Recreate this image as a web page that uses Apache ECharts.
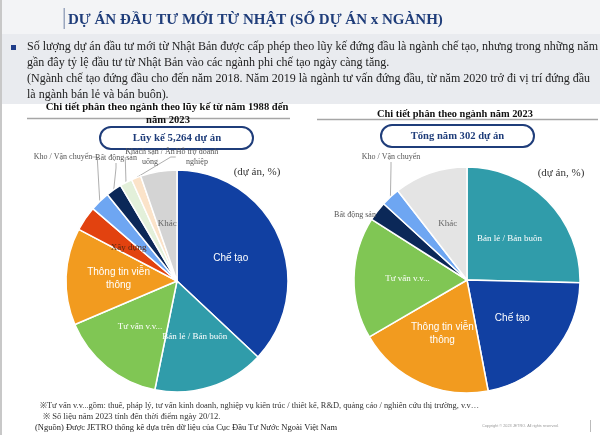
<!DOCTYPE html>
<html><head><meta charset="utf-8">
<script src="https://cdn.jsdelivr.net/npm/echarts@6/dist/echarts.min.js"></script>
<style>html,body{margin:0;padding:0;background:#fff}#c{width:600px;height:435px}</style>
</head><body><div id="c"></div>
<script>
// ---- data ----
const leftCategories = ['Chế tạo','Bán lẻ / Bán buôn','Tư vấn v.v...','Thông tin viễn\nthông','Xây dựng','Kho / Vận chuyển','Bất động sản','Khách sạn / Ăn\nuống','Hỗ trợ doanh\nnghiệp','Khác'];
const leftValues = [37.0, 16.2, 15.4, 14.1, 3.6, 2.9, 2.3, 1.8, 1.4, 5.3];
const rightCategories = ['Bán lẻ / Bán buôn','Chế tạo','Thông tin viễn\nthông','Tư vấn v.v...','Bất động sản','Kho / Vận chuyển','Khác'];
const rightValues = [25.4, 21.6, 19.6, 17.4, 2.8, 2.7, 10.5];
const titleText = 'DỰ ÁN ĐẦU TƯ MỚI TỪ NHẬT (SỐ DỰ ÁN x NGÀNH)';
const bulletLines = [
 'Số lượng dự án đầu tư mới từ Nhật Bản được cấp phép theo lũy kế đứng đầu là ngành chế tạo, nhưng trong những năm',
 'gần đây tỷ lệ đầu tư từ Nhật Bản vào các ngành phi chế tạo ngày càng tăng.',
 '(Ngành chế tạo đứng đầu cho đến năm 2018. Năm 2019 là ngành tư vấn đứng đầu, từ năm 2020 trở đi vị trí đứng đầu',
 'là ngành bán lẻ và bán buôn).'
];
const leftSub = ['Chi tiết phân theo ngành theo lũy kế từ năm 1988 đến','năm 2023'];
const rightSub = 'Chi tiết phân theo ngành năm 2023';
const leftBox = 'Lũy kế 5,264 dự án';
const rightBox = 'Tổng năm 302 dự án';
const unitText = '(dự án, %)';
const notes = [
 '※Tư vấn v.v...gồm: thuế, pháp lý, tư vấn kinh doanh, nghiệp vụ kiến trúc / thiết kế, R&D, quảng cáo / nghiên cứu thị trường, v.v…',
 '※ Số liệu năm 2023 tính đến thời điểm ngày 20/12.'
];
const sourceText = '(Nguồn) Được JETRO thống kê dựa trên dữ liệu của Cục Đầu Tư Nước Ngoài Việt Nam';
const copyText = 'Copyright © 2023 JETRO. All rights reserved.';

// ---- styles ----
const colorMap = {
 'Chế tạo':'#1140A2','Bán lẻ / Bán buôn':'#309CAA','Tư vấn v.v...':'#80C654','Thông tin viễn\nthông':'#F29B1F',
 'Xây dựng':'#E2420F','Kho / Vận chuyển':'#6EA6F2','Bất động sản':'#0B2858','Khách sạn / Ăn\nuống':'#E3F0DA',
 'Hỗ trợ doanh\nnghiệp':'#FBE3C9','Khác':'#D4D4D4'
};
const serif = '"Liberation Serif", "DejaVu Serif", serif';
const sans = '"Liberation Sans", Arial, sans-serif';
const sansLabels = ['Chế tạo','Thông tin viễn\nthông'];
const outsideLeft = {'Kho / Vận chuyển':[63,157],'Bất động sản':[116,158],'Khách sạn / Ăn\nuống':[150,157],'Hỗ trợ doanh\nnghiệp':[197,157]};
const outsideRight = {'Kho / Vận chuyển':[391,157],'Bất động sản':[355,215]};

function buildData(cats, vals, outside, khacColor){
  return cats.map((name,i)=>{
    const isOut = outside[name] !== undefined;
    const item = {name, value: vals[i], itemStyle:{color: name==='Khác'? khacColor : colorMap[name]}};
    if (isOut){
      item.label = {show:true, position:'outside', color:'#555', fontFamily:serif, fontSize:8, lineHeight:10};
      item.labelLine = {show:true, length:10, length2:5, lineStyle:{color:'#999', width:0.8}};
    } else {
      item.label = {show:true, position:'inside', color: name==='Khác' ? '#666' : (name==='Xây dựng' ? '#5a2a10' : '#fff'),
        fontFamily: sansLabels.includes(name)? sans : serif, fontSize: sansLabels.includes(name)? 10 : 9, lineHeight: 13};
      item.labelLine = {show:false};
    }
    return item;
  });
}
function layoutFor(outside, data){
  return function(p){
    const name = data[p.dataIndex].name;
    const pos = outside[name];
    if (!pos) return {};
    return {x: pos[0], y: pos[1], align:'center', verticalAlign:'middle'};
  };
}
const leftData = buildData(leftCategories, leftValues, outsideLeft, '#D4D4D4');
const rightData = buildData(rightCategories, rightValues, outsideRight, '#E4E4E4');

const graphics = [
  {type:'rect', shape:{x:0,y:0,width:600,height:34}, style:{fill:'#F3F4F6'}, silent:true},
  {type:'rect', shape:{x:0,y:34,width:600,height:70}, style:{fill:'#E9EBEF'}, silent:true},
  {type:'rect', shape:{x:0,y:0,width:2,height:435}, style:{fill:'#C8C8C8'}, silent:true},
  {type:'rect', shape:{x:63.5,y:8,width:1.5,height:21}, style:{fill:'#9AA6BE'}, silent:true},
  {type:'text', x:68, y:20, style:{text:titleText, font:'bold 15px '+serif, fill:'#1F3D7A', textVerticalAlign:'middle'}},
  {type:'rect', shape:{x:11,y:45,width:5,height:5}, style:{fill:'#1F3D8A'}},
];
bulletLines.forEach((t,i)=>graphics.push({type:'text', x:27, y:47+i*16, style:{text:t, font:'12px '+serif, fill:'#222', textVerticalAlign:'middle'}}));
graphics.push(
  {type:'text', x:167, y:107, style:{text:leftSub[0], font:'bold 10.6px '+serif, fill:'#111', textAlign:'center', textVerticalAlign:'middle'}},
  {type:'line', shape:{x1:27,y1:118.5,x2:290,y2:118.5}, style:{stroke:'#A6A6A6', lineWidth:1.5}},
  {type:'text', x:168, y:120, style:{text:leftSub[1], font:'bold 10.6px '+serif, fill:'#111', textAlign:'center', textVerticalAlign:'middle'}},
  {type:'text', x:455, y:114, style:{text:rightSub, font:'bold 10.4px '+serif, fill:'#111', textAlign:'center', textVerticalAlign:'middle'}},
  {type:'line', shape:{x1:317,y1:119.5,x2:598,y2:119.5}, style:{stroke:'#A6A6A6', lineWidth:1.5}},
  {type:'rect', shape:{x:100,y:127,width:153,height:22,r:11}, style:{fill:'#fff', stroke:'#1F3D7A', lineWidth:2}},
  {type:'text', x:177, y:138.5, style:{text:leftBox, font:'bold 10.8px '+serif, fill:'#1F3D7A', textAlign:'center', textVerticalAlign:'middle'}},
  {type:'rect', shape:{x:381,y:125,width:153,height:22,r:11}, style:{fill:'#fff', stroke:'#1F3D7A', lineWidth:2}},
  {type:'text', x:457.5, y:136.5, style:{text:rightBox, font:'bold 10.6px '+serif, fill:'#1F3D7A', textAlign:'center', textVerticalAlign:'middle'}},
  {type:'text', x:257, y:172, style:{text:unitText, font:'11px '+serif, fill:'#333', textAlign:'center', textVerticalAlign:'middle'}},
  {type:'text', x:561, y:173, style:{text:unitText, font:'11px '+serif, fill:'#333', textAlign:'center', textVerticalAlign:'middle'}},
  {type:'text', x:40, y:406, style:{text:notes[0], font:'8.4px '+serif, fill:'#333', textVerticalAlign:'middle'}},
  {type:'text', x:43, y:416.5, style:{text:notes[1], font:'8.6px '+serif, fill:'#333', textVerticalAlign:'middle'}},
  {type:'text', x:35, y:428, style:{text:sourceText, font:'8.5px '+serif, fill:'#222', textVerticalAlign:'middle'}},
  {type:'text', x:482, y:426, style:{text:copyText, font:'3.8px '+sans, fill:'#999', textVerticalAlign:'middle'}},
  {type:'line', shape:{x1:590.5,y1:420,x2:590.5,y2:432}, style:{stroke:'#BBB', lineWidth:1}}
);

const chart = echarts.init(document.getElementById('c'), null, {renderer:'canvas'});
chart.setOption({
  animation:false,
  backgroundColor:'#fff',
  graphic: graphics,
  series:[
    {type:'pie', center:[177,281], radius:[0,111], startAngle:90, clockwise:true, avoidLabelOverlap:false,
     itemStyle:{borderColor:'#fff', borderWidth:1.5}, data:leftData, labelLayout: layoutFor(outsideLeft, leftData), z:2},
    {type:'pie', center:[467,280], radius:[0,113], startAngle:90, clockwise:true, avoidLabelOverlap:false,
     itemStyle:{borderColor:'#fff', borderWidth:1.5}, data:rightData, labelLayout: layoutFor(outsideRight, rightData), z:2}
  ]
});
</script></body></html>
